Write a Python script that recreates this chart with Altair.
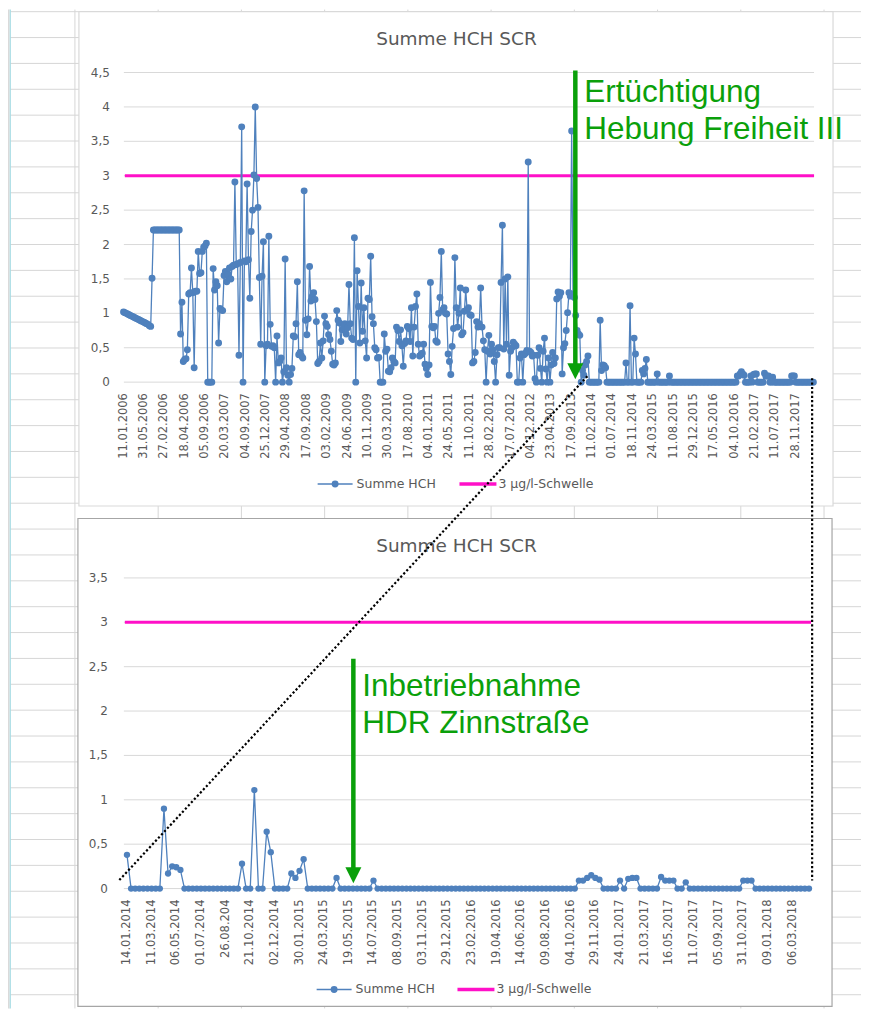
import altair as alt
import pandas as pd

# ---------------- data ----------------
chart_title = "Summe HCH SCR"
series_name = "Summe HCH"
threshold_name = "3 µg/l-Schwelle"
threshold = 3.0

top_labels = ["11.01.2006", "31.05.2006", "27.02.2006", "18.04.2006", "05.09.2006",
              "20.03.2007", "04.09.2007", "25.12.2007", "29.04.2008", "17.09.2008",
              "03.02.2009", "24.06.2009", "10.11.2009", "30.03.2010", "17.08.2010",
              "04.01.2011", "24.05.2011", "11.10.2011", "28.02.2012", "17.07.2012",
              "04.12.2012", "23.04.2013", "17.09.2013", "11.02.2014", "01.07.2014",
              "18.11.2014", "24.03.2015", "11.08.2015", "29.12.2015", "17.05.2016",
              "04.10.2016", "21.02.2017", "11.07.2017", "28.11.2017"]
bottom_labels = ["14.01.2014", "11.03.2014", "06.05.2014", "01.07.2014", "26.08.204",
                 "21.10.2014", "02.12.2014", "30.01.2015", "24.03.2015", "19.05.2015",
                 "14.07.2015", "08.09.2015", "03.11.2015", "29.12.2015", "23.02.2016",
                 "19.04.2016", "14.06.2016", "09.08.2016", "04.10.2016", "29.11.2016",
                 "24.01.2017", "21.03.2017", "16.05.2017", "11.07.2017", "05.09.2017",
                 "31.10.2017", "09.01.2018", "06.03.2018"]
top_label_step = 15
bottom_label_step = 6

top_y_ticks = [0, 0.5, 1, 1.5, 2, 2.5, 3, 3.5, 4, 4.5]
bottom_y_ticks = [0, 0.5, 1, 1.5, 2, 2.5, 3, 3.5]

hch_2006_2013 = [
    1.02, 1.01, 1.00, 0.99, 0.98, 0.97, 0.96, 0.95, 0.94, 0.93,
    0.92, 0.91, 0.90, 0.89, 0.88, 0.87, 0.86, 0.85, 0.84, 0.82,
    0.81, 1.51, 2.21, 2.21, 2.21, 2.21, 2.21, 2.21, 2.21, 2.21,
    2.21, 2.21, 2.21, 2.21, 2.21, 2.21, 2.21, 2.21, 2.21, 2.21,
    2.21, 2.21, 0.70, 1.16, 0.30, 0.33, 0.34, 0.47, 1.28, 1.30,
    1.66, 1.30, 0.21, 1.32, 1.32, 1.90, 1.58, 1.59, 1.90, 1.96,
    1.98, 2.02, 0.00, 0.00, 0.00, 0.00, 1.65, 1.34, 1.46, 1.40,
    0.57, 1.07, 1.05, 1.04, 1.55, 1.61, 1.46, 1.56, 1.66, 1.50,
    1.68, 1.70, 2.91, 1.71, 1.72, 0.39, 1.74, 3.71, 0.00, 1.76,
    1.75, 2.88, 1.78, 1.22, 2.19, 2.50, 3.01, 4.00, 2.96, 2.54,
    1.52, 0.55, 1.54, 2.04, 0.00, 0.53, 0.55, 2.12, 0.84, 0.52,
    0.53, 0.50, 0.00, 0.67, 0.28, 0.30, 0.35, 0.00, 0.15, 1.79,
    0.21, 0.10, 0.00, 0.11, 0.20, 0.67, 0.66, 0.85, 1.46, 0.40,
    0.43, 0.38, 0.35, 2.78, 0.90, 0.69, 0.92, 1.68, 1.18, 1.25,
    1.30, 1.20, 0.88, 0.27, 0.30, 0.57, 0.35, 0.60, 0.96, 0.85,
    0.81, 0.69, 0.62, 0.45, 0.26, 0.25, 0.28, 1.04, 0.90, 0.86,
    0.59, 0.76, 0.80, 0.85, 0.70, 0.79, 1.42, 0.85, 0.64, 0.62,
    2.10, 0.00, 1.62, 1.10, 0.57, 1.44, 0.74, 1.08, 0.60, 0.35,
    1.22, 1.20, 1.83, 0.95, 0.85, 0.50, 0.47, 0.35, 0.36, 0.00,
    0.00, 0.00, 0.70, 0.45, 0.48, 0.16, 0.15, 0.21, 0.35, 0.30,
    0.28, 0.80, 0.75, 0.59, 0.76, 0.53, 0.23, 0.56, 0.60, 0.81,
    0.78, 0.59, 1.08, 0.38, 0.80, 1.10, 1.28, 0.55, 0.38, 0.40,
    0.42, 0.55, 0.26, 0.20, 0.11, 0.25, 1.45, 0.81, 0.79, 0.81,
    0.60, 0.58, 1.00, 1.23, 1.90, 1.05, 1.08, 1.00, 0.99, 0.41,
    0.30, 0.11, 0.52, 0.78, 1.81, 1.08, 0.80, 1.00, 1.37, 0.69,
    0.72, 1.03, 1.34, 1.05, 1.08, 0.98, 0.97, 0.28, 0.30, 0.43,
    0.88, 0.80, 0.85, 1.37, 0.80, 0.60, 0.47, 0.00, 0.45, 0.68,
    0.41, 0.55, 0.47, 0.30, 0.00, 0.40, 0.50, 0.50, 1.45, 2.28,
    0.48, 1.50, 0.55, 1.53, 0.10, 0.45, 0.50, 0.58, 0.55, 0.53,
    0.00, 0.00, 0.35, 0.41, 0.00, 0.40, 0.42, 0.46, 3.20, 0.45,
    0.43, 0.38, 0.39, 0.05, 0.00, 0.39, 0.50, 0.20, 0.00, 0.45,
    0.64, 0.19, 0.00, 0.35, 0.00, 0.25, 0.43, 0.27, 0.35, 1.21,
    1.31, 1.25, 1.30, 0.12, 0.50, 0.56, 0.75, 1.01, 1.30, 1.25,
    3.65, 1.28, 1.23, 0.97, 0.75, 0.70, 0.68, 0.00, 0.17, 0.10,
    0.25, 0.30,
]

hch_2014_2018 = [
    0.38, 0, 0, 0, 0, 0, 0, 0, 0, 0.90,
    0.17, 0.25, 0.24, 0.21, 0, 0, 0, 0, 0, 0,
    0, 0, 0, 0, 0, 0, 0, 0, 0.28, 0,
    0, 1.11, 0, 0, 0.64, 0.41, 0, 0, 0, 0,
    0.17, 0.12, 0.20, 0.33, 0, 0, 0, 0, 0, 0,
    0, 0.12, 0, 0, 0, 0, 0, 0, 0, 0,
    0.09, 0, 0, 0, 0, 0, 0, 0, 0, 0,
    0, 0, 0, 0, 0, 0, 0, 0, 0, 0,
    0, 0, 0, 0, 0, 0, 0, 0, 0, 0,
    0, 0, 0, 0, 0, 0, 0, 0, 0, 0,
    0, 0, 0, 0, 0, 0, 0, 0, 0, 0,
    0.09, 0.09, 0.12, 0.15, 0.12, 0.10, 0, 0, 0, 0,
    0.09, 0, 0.11, 0.12, 0.12, 0, 0, 0, 0, 0,
    0.13, 0.09, 0.09, 0.09, 0, 0, 0.07, 0, 0, 0,
    0, 0, 0, 0, 0, 0, 0, 0, 0, 0,
    0.09, 0.09, 0.09, 0, 0, 0, 0, 0, 0, 0,
    0, 0, 0, 0, 0, 0, 0,
]

top_values = hch_2006_2013 + hch_2014_2018

# annotations (category position, values in data units)
top_arrow = {"c": 332.7, "y1": 4.53, "y2": 0.25, "head": 0.16, "ty": 4.065,
             "lines": ["Ertüchtigung", "Hebung Freiheit III"]}
bottom_arrow = {"c": 55.1, "y1": 2.59, "y2": 0.23, "head": 0.15, "ty": 2.172,
                "lines": ["Inbetriebnahme", "HDR Zinnstraße"]}
# dotted zoom connectors, in the lower panel's units
connectors = pd.DataFrame({
    "xa": [112.06, 166.76], "ya": [5.773, 5.751],
    "xb": [-1.97, 166.76], "yb": [0.09, 0.09],
})

# ---------------- styles ----------------
BLUE = "#4f81bd"
MAGENTA = "#ff10c8"
GREEN = "#0aa00a"
GREY_TXT = "#595959"
GRID = "#d9d9d9"
SHEET = "#d6d6d6"
FONT = "DejaVu Sans"
TRI = "M-1,-1L1,-1L0,1Z"

TOP_W, TOP_H = 692, 310
BOT_W, BOT_H = 689, 311
OX, OY_TOP, OY_BOT = 123, 71, 577  # page position of plot origins
one = pd.DataFrame({"k": [0]})


def val(v):
    return alt.value(v)


def panel(values, labels, step, ymax, yticks, width, height, x_dom, msize,
          ylab_pad, arrow, oy, box, box_stroke, leg):
    xs = alt.Scale(domain=x_dom, nice=False, zero=False)
    ys = alt.Scale(domain=[0, ymax], nice=False)
    layers = []
    bx0, bx1, by0, by1 = box
    layers.append(alt.Chart(one).mark_rect(fill="white", stroke=box_stroke, strokeWidth=1.2)
                  .encode(x=val(bx0 - OX), x2=val(bx1 - OX), y=val(by0 - oy), y2=val(by1 - oy)))
    gdf = pd.DataFrame({"g": yticks,
                        "lab": [f"{t:g}".replace(".", ",") for t in yticks]})
    layers.append(alt.Chart(gdf).mark_rule(color=GRID, strokeWidth=1)
                  .encode(y=alt.Y("g:Q", scale=ys, axis=None), x=val(1), x2=val(width)))
    # y tick labels
    layers.append(alt.Chart(gdf).mark_text(align="right", baseline="middle", font=FONT,
                                           fontSize=12, color=GREY_TXT)
                  .encode(y=alt.Y("g:Q", scale=ys, axis=None), x=val(-ylab_pad),
                          text="lab:N"))
    # x tick labels (every n-th category, as in the original)
    xdf = pd.DataFrame({"c": [i * step for i in range(len(labels))], "lab": labels})
    layers.append(alt.Chart(xdf).mark_text(angle=270, align="right", baseline="middle",
                                           font=FONT, fontSize=11.5, color=GREY_TXT)
                  .encode(x=alt.X("c:Q", scale=xs, axis=None), y=val(height + 11),
                          text="lab:N"))
    tdf = pd.DataFrame({"t": [threshold]})
    layers.append(alt.Chart(tdf).mark_rule(color=MAGENTA, strokeWidth=3)
                  .encode(y=alt.Y("t:Q", scale=ys, axis=None), x=val(2), x2=val(width)))
    df = pd.DataFrame({"i": list(range(len(values))), "v": values})
    layers.append(alt.Chart(df).mark_line(
        color=BLUE, strokeWidth=1.3,
        point=alt.OverlayMarkDef(filled=True, size=msize, color=BLUE, opacity=1))
        .encode(x=alt.X("i:Q", scale=xs, axis=None),
                y=alt.Y("v:Q", scale=ys, axis=None)))
    adf = pd.DataFrame({"c": [arrow["c"]], "y1": [arrow["y1"]], "y2": [arrow["y2"]],
                        "h": [arrow["head"]], "ty": [arrow["ty"]]})
    layers.append(alt.Chart(adf).mark_rule(color=GREEN, strokeWidth=4.5)
                  .encode(x=alt.X("c:Q", scale=xs, axis=None),
                          y=alt.Y("y1:Q", scale=ys, axis=None), y2="y2:Q"))
    layers.append(alt.Chart(adf).mark_point(shape=TRI, filled=True, size=256, color=GREEN,
                                            opacity=1, strokeWidth=0)
                  .encode(x=alt.X("c:Q", scale=xs, axis=None),
                          y=alt.Y("h:Q", scale=ys, axis=None)))
    layers.append(alt.Chart(adf).mark_text(align="left", baseline="alphabetic",
                                           font="Liberation Sans", fontSize=31.5,
                                           color=GREEN, dx=9, lineHeight=37)
                  .encode(x=alt.X("c:Q", scale=xs, axis=None),
                          y=alt.Y("ty:Q", scale=ys, axis=None),
                          text=alt.value(arrow["lines"])))
    layers.append(alt.Chart(one).mark_text(font=FONT, fontSize=18.5, color=GREY_TXT,
                                           align="center", baseline="alphabetic")
                  .encode(x=val(457 - OX), y=val(leg["ty"] - oy), text=val(chart_title)))
    ly = leg["y"] - oy
    layers.append(alt.Chart(one).mark_rule(color=BLUE, strokeWidth=1.5)
                  .encode(x=val(leg["b0"] - OX), x2=val(leg["b1"] - OX), y=val(ly)))
    layers.append(alt.Chart(one).mark_point(filled=True, size=48, color=BLUE, opacity=1,
                                            shape="circle")
                  .encode(x=val((leg["b0"] + leg["b1"]) / 2 - OX), y=val(ly)))
    layers.append(alt.Chart(one).mark_text(font=FONT, fontSize=12.5, color=GREY_TXT,
                                           align="left", baseline="middle")
                  .encode(x=val(leg["b1"] + 4 - OX), y=val(ly), text=val(series_name)))
    layers.append(alt.Chart(one).mark_rule(color=MAGENTA, strokeWidth=3.5)
                  .encode(x=val(leg["m0"] - OX), x2=val(leg["m1"] - OX), y=val(ly)))
    layers.append(alt.Chart(one).mark_text(font=FONT, fontSize=12.5, color=GREY_TXT,
                                           align="left", baseline="middle")
                  .encode(x=val(leg["m1"] + 2 - OX), y=val(ly), text=val(threshold_name)))
    return layers, xs, ys


# ---------------- top panel ----------------
top_layers, txs, tys = panel(
    top_values, top_labels, top_label_step, 4.5, top_y_ticks, TOP_W, TOP_H,
    [-0.5, len(top_values) - 0.5], 48, 13, top_arrow, OY_TOP,
    (79, 834, 10, 505), "#d9d9d9",
    {"y": 483, "ty": 43, "b0": 318, "b1": 353, "m0": 460, "m1": 497})

# spreadsheet background (drawn first, in the top panel, page-pixel positions)
rows = pd.DataFrame({"py": [10.1 + 25.9 * j - OY_TOP for j in range(39)]})
cols = pd.DataFrame({"px": [75 + 83.333 * i - OX for i in range(10)]})
bg = [
    alt.Chart(one).mark_rect(fill="white")
    .encode(x=val(8 - OX), x2=val(862 - OX), y=val(8 - OY_TOP), y2=val(1008 - OY_TOP)),
    alt.Chart(rows).mark_rule(color=SHEET, strokeWidth=1)
    .encode(y=alt.Y("py:Q", scale=None, axis=None), x=val(10 - OX), x2=val(862 - OX)),
    alt.Chart(cols).mark_rule(color=SHEET, strokeWidth=1)
    .encode(x=alt.X("px:Q", scale=None, axis=None), y=val(8 - OY_TOP), y2=val(1008 - OY_TOP)),
    alt.Chart(one).mark_rect(fill="#dadada")
    .encode(x=val(8 - OX), x2=val(9.6 - OX), y=val(8 - OY_TOP), y2=val(1008 - OY_TOP)),
    alt.Chart(one).mark_rule(color="#a9dde5", strokeWidth=1.2)
    .encode(x=val(10.3 - OX), y=val(8 - OY_TOP), y2=val(1008 - OY_TOP)),
]
top = alt.layer(*(bg + top_layers)).properties(width=TOP_W, height=TOP_H)

# ---------------- bottom panel ----------------
bot_layers, bxs, bys = panel(
    hch_2014_2018, bottom_labels, bottom_label_step, 3.5, bottom_y_ticks, BOT_W, BOT_H,
    [-1, len(hch_2014_2018) - 0.5], 40, 15, bottom_arrow, OY_BOT,
    (78, 833, 517.5, 1006), "#a6a6a6",
    {"y": 989, "ty": 551, "b0": 317, "b1": 352, "m0": 458, "m1": 495})
dots = alt.Chart(connectors).mark_rule(color="black", strokeWidth=2.2,
                                       strokeDash=[2.2, 2.2]).encode(
    x=alt.X("xa:Q", scale=bxs, axis=None), y=alt.Y("ya:Q", scale=bys, axis=None),
    x2="xb:Q", y2="yb:Q")
bottom = alt.layer(*(bot_layers + [dots])).properties(width=BOT_W, height=BOT_H)

chart = (alt.vconcat(top, bottom, spacing=OY_BOT - (OY_TOP + TOP_H), bounds="flush")
         .properties(padding=0)
         .configure_view(strokeWidth=0))

chart.save("out.html", embed_options={"renderer": "svg", "actions": False})
